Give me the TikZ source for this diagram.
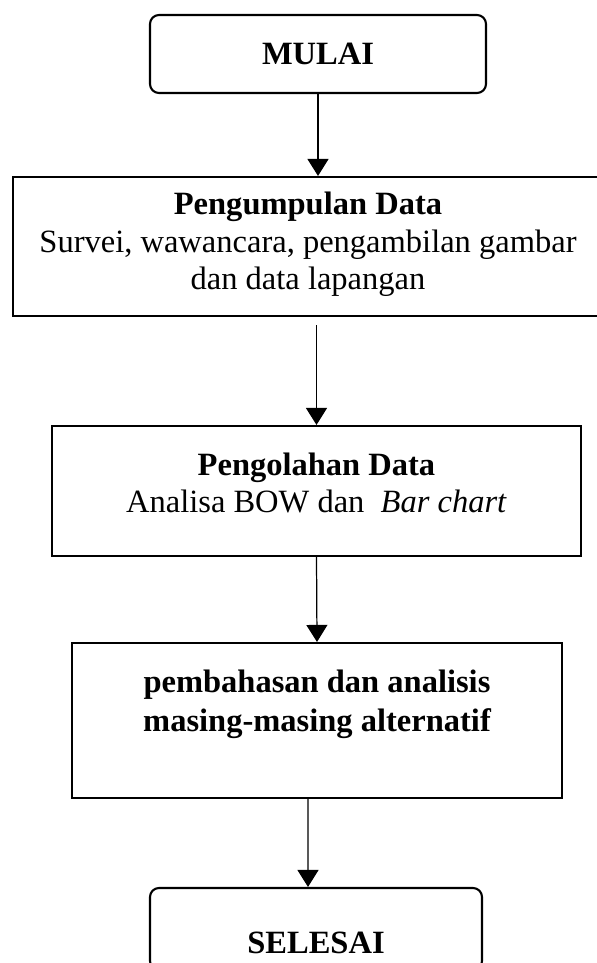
\documentclass[tikz,border=0pt]{standalone}
\usepackage{fontspec}
\setmainfont{Liberation Serif}
\usetikzlibrary{arrows.meta}

\begin{document}
\begin{tikzpicture}[
	kotak/.style={draw,line width=1.2pt,align=center,inner sep=0pt,font=\fontsize{18.5}{21.5}\selectfont},
	ujung/.style={kotak,rounded corners=0.18cm,font=\fontsize{18.5}{21.5}\selectfont\bfseries},
	panah/.style={line width=0.7pt,-{Triangle[width=0.42cm,length=0.34cm]}}]
	\useasboundingbox (0,0) rectangle (11.92,-19.26);
	\node (mulai) at (6.36,-1.08)[ujung,minimum width=6.72cm,minimum height=1.56cm,text height=12.2pt,text depth=0pt] {MULAI};
	\node (kumpul) at (6.16,-4.93)[kotak,minimum width=11.8cm,minimum height=2.78cm,text height=49.5pt,text depth=0pt] {\textbf{Pengumpulan Data}\\Survei, wawancara, pengambilan gambar\\dan data lapangan};
	\node (olah) at (6.33,-9.82)[kotak,minimum width=10.58cm,minimum height=2.6cm,text height=25pt,text depth=0pt] {\textbf{Pengolahan Data}\\Analisa BOW dan~ \textit{Bar chart}};
	\node (bahas) at (6.34,-14.41)[kotak,minimum width=9.8cm,minimum height=3.1cm,text height=13pt,text depth=0pt,font=\fontsize{18.5}{22.5}\selectfont\bfseries] {pembahasan dan analisis\\masing-masing alternatif};
	\node (selesai) at (6.32,-18.58)[ujung,minimum width=6.64cm,minimum height=1.64cm,text height=28.4pt,text depth=0pt] {SELESAI};
	\draw[panah] (mulai.south) -- (mulai.south |- kumpul.north);
	\draw[panah] ([yshift=-0.16cm]olah.north |- kumpul.south) -- (olah.north);
	\draw[panah] (olah.south) -- (bahas.north);
	\draw[panah] ([xshift=-0.18cm]bahas.south) -- ([xshift=-0.16cm]selesai.north);
\end{tikzpicture}
\end{document}
